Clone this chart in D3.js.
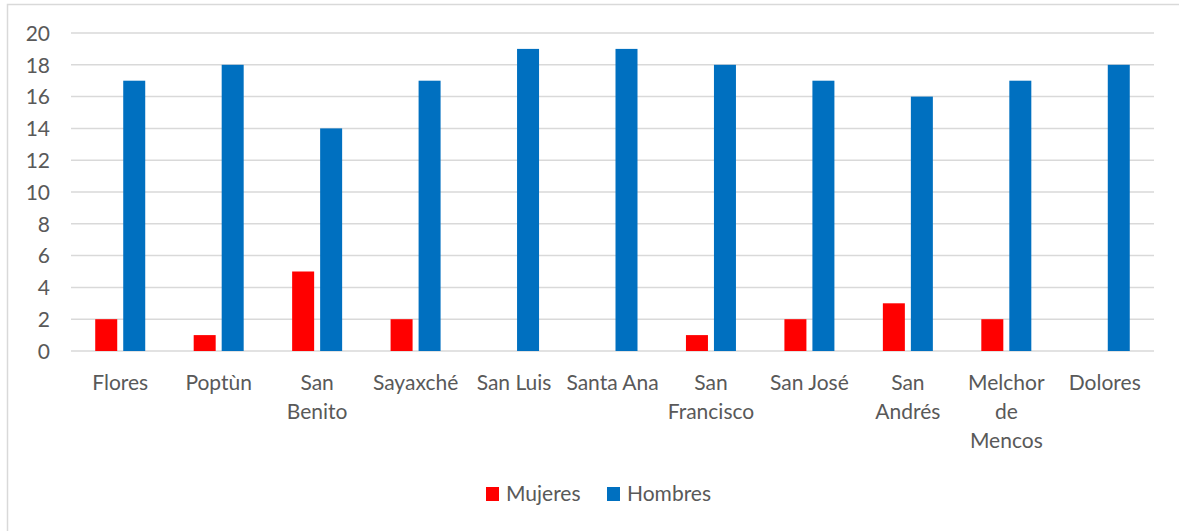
<!DOCTYPE html>
<html>
<head>
<meta charset="utf-8">
<script src="https://cdn.jsdelivr.net/npm/d3@7"></script>
<style>
  body { margin: 0; background: #fff; }
  svg { display: block; }
  .tick text, .lbl { font-family: Lato, "Open Sans", sans-serif; fill: #595959; }
</style>
</head>
<body>
<div id="chart"></div>
<script>
// categories + series
var municipios = [["Flores"], ["Poptùn"], ["San", "Benito"], ["Sayaxché"], ["San Luis"], ["Santa Ana"],
    ["San", "Francisco"], ["San José"], ["San", "Andrés"], ["Melchor", "de", "Mencos"], ["Dolores"]];
var mujeres = [2, 1, 5, 2, 0, 0, 1, 2, 3, 2, 0];
var hombres = [17, 18, 14, 17, 19, 19, 18, 17, 16, 17, 18];
var yTicks = [0, 2, 4, 6, 8, 10, 12, 14, 16, 18, 20];
var series = ["Mujeres", "Hombres"];
var colors = ["#ff0000", "#0070c0"];

var W = 1179, H = 531;
var margin = { top: 33, right: 25, bottom: 180, left: 71 };
var width = W - margin.left - margin.right,
    height = H - margin.top - margin.bottom;

var svg = d3.select("#chart").append("svg")
    .attr("width", W)
    .attr("height", H);

// chart frame (right / bottom edges fall outside the picture)
svg.append("rect")
    .attr("x", 7.5).attr("y", 4.5)
    .attr("width", 1300).attr("height", 700)
    .attr("fill", "none")
    .attr("stroke", "#d9d9d9")
    .attr("stroke-width", 1.5);

var g = svg.append("g")
    .attr("transform", "translate(" + margin.left + "," + margin.top + ")");

var x = d3.scaleBand()
    .domain(d3.range(municipios.length))
    .range([0, width]);

var y = d3.scaleLinear()
    .domain([0, 20])
    .range([height, 0]);

// gridlines
g.selectAll(".grid")
    .data(yTicks)
    .enter().append("line")
    .attr("class", "grid")
    .attr("x1", 0).attr("x2", width)
    .attr("y1", function(d) { return y(d); })
    .attr("y2", function(d) { return y(d); })
    .attr("stroke", "#d9d9d9")
    .attr("stroke-width", 1.5);

// y axis labels
var yAxis = g.append("g")
    .call(d3.axisLeft(y).tickValues(yTicks).tickSize(0).tickPadding(21));
yAxis.select(".domain").remove();
yAxis.selectAll("text")
    .style("font-size", "21px")
    .attr("dy", "0.35em");

var barW = 22, gap = 6;
var x1 = function(s) { return (s === 0 ? -gap / 2 - barW : gap / 2); };

series.forEach(function(name, s) {
    var vals = s === 0 ? mujeres : hombres;
    g.selectAll(".bar-" + s)
        .data(vals)
        .enter().append("rect")
        .attr("class", "bar-" + s)
        .attr("x", function(d, i) { return x(i) + x.bandwidth() / 2 + x1(s); })
        .attr("y", function(d) { return y(d); })
        .attr("width", barW)
        .attr("height", function(d) { return height - y(d); })
        .attr("fill", colors[s]);
});

// x category labels (multi-line)
var xl = g.selectAll(".xlab")
    .data(municipios)
    .enter().append("text")
    .attr("class", "lbl")
    .attr("text-anchor", "middle")
    .style("font-size", "21px")
    .attr("transform", function(d, i) {
        return "translate(" + (x(i) + x.bandwidth() / 2) + "," + (height + 39) + ")";
    });
xl.selectAll("tspan")
    .data(function(d) { return d; })
    .enter().append("tspan")
    .attr("x", 0)
    .attr("y", function(d, i) { return i * 29; })
    .text(function(d) { return d; });

// legend
var legend = svg.append("g")
    .attr("transform", "translate(486,487)");
var lx = [0, 121];
series.forEach(function(name, s) {
    var lg = legend.append("g").attr("transform", "translate(" + lx[s] + ",0)");
    lg.append("rect")
        .attr("width", 13).attr("height", 14)
        .attr("fill", colors[s]);
    lg.append("text")
        .attr("class", "lbl")
        .attr("x", 20).attr("y", 14)
        .style("font-size", "21px")
        .text(name);
});
</script>
</body>
</html>
